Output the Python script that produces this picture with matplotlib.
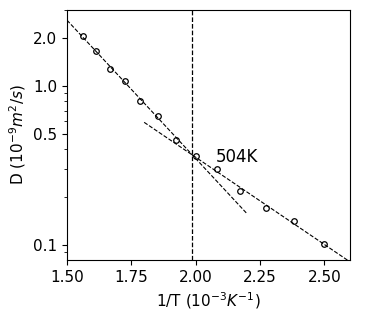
import numpy as np
import matplotlib
matplotlib.use('Agg')
import matplotlib.pyplot as plt
from matplotlib.ticker import FixedLocator, NullFormatter, FixedFormatter

# temperatures (K) and diffusion coefficients (1e-9 m^2/s)
T = np.array([640, 620, 600, 580, 560, 540, 520, 500, 480, 460, 440, 420, 400])
D = np.array([2.07, 1.65, 1.28, 1.075, 0.80, 0.647, 0.46, 0.361, 0.30, 0.219, 0.17, 0.1425, 0.1015])
T_cross = 504
y_ticks = [0.1, 0.5, 1.0, 2.0]
y_labels = ['0.1', '0.5', '1.0', '2.0']

invT = 1000.0 / T

# Arrhenius fits above and below the crossover
hi = T >= 500
lo = T <= 500
p_hi = np.polyfit(invT[hi], np.log10(D[hi]), 1)
p_lo = np.polyfit(invT[lo], np.log10(D[lo]), 1)
x_hi = np.linspace(1.5, 2.2, 50)
x_lo = np.linspace(1.8, 2.6, 50)

fig = plt.figure(figsize=(3.74, 3.18), dpi=100)
ax = fig.add_axes([0.179, 0.182, 0.757, 0.787])

ax.plot(x_hi, 10 ** np.polyval(p_hi, x_hi), 'k--', lw=0.8)
ax.plot(x_lo, 10 ** np.polyval(p_lo, x_lo), 'k--', lw=0.8)
ax.plot(invT, D, 'o', mfc='none', mec='k', ms=4, mew=0.9)
ax.axvline(1000.0 / T_cross, color='k', ls='--', lw=0.9)
ax.text(2.08, 0.36, '%dK' % T_cross, fontsize=12, va='center', ha='left')

ax.set_yscale('log')
ax.set_xlim(1.5, 2.6)
ax.set_ylim(0.0805, 3.0)
ax.set_xticks([1.5, 1.75, 2.0, 2.25, 2.5])
ax.set_xticklabels(['1.50', '1.75', '2.00', '2.25', '2.50'])
ax.yaxis.set_major_locator(FixedLocator(y_ticks))
ax.yaxis.set_major_formatter(FixedFormatter(y_labels))
ax.yaxis.set_minor_formatter(NullFormatter())
ax.tick_params(labelsize=11)

ax.set_xlabel(r'1/T ($10^{-3}K^{-1}$)', fontsize=11)
ax.set_ylabel(r'D ($10^{-9}m^2/s$)', fontsize=11)

fig.savefig('out.png', dpi=100)
